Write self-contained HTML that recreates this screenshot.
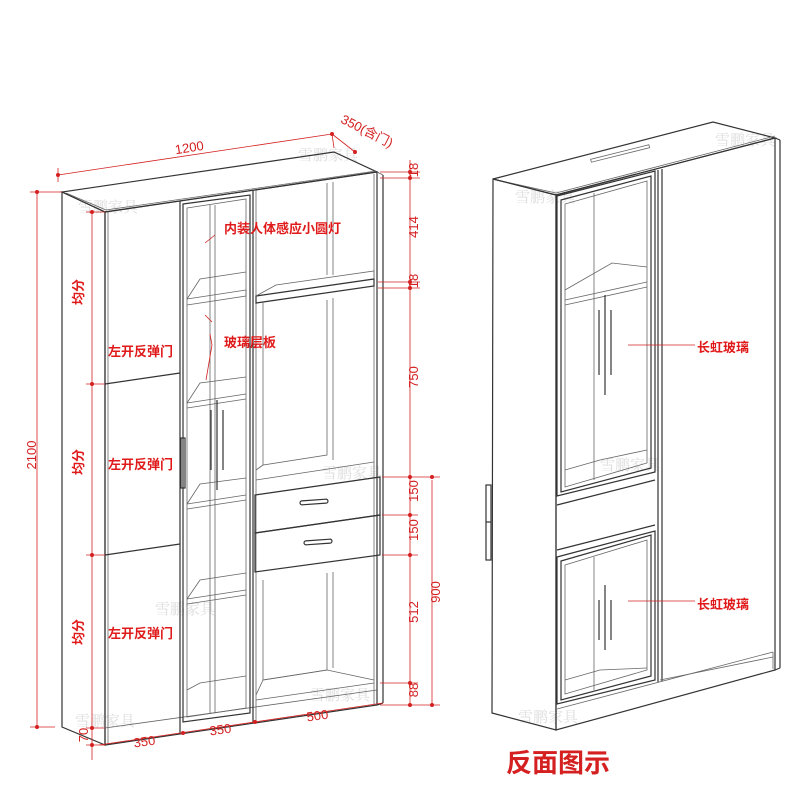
<!DOCTYPE html>
<html><head><meta charset="utf-8"><style>
html,body{margin:0;padding:0;background:#fff;}
svg{display:block;}
.c{fill:none;stroke:#333;stroke-width:1.2}
.t{fill:none;stroke:#666;stroke-width:0.8}
.r{stroke:#d42020;stroke-width:0.8;fill:none}
.d{fill:#d42020}
.lb{font-family:"Liberation Sans","Noto Sans CJK SC",sans-serif;font-weight:bold;font-size:13px;fill:#e01a1a}
.dm{font-family:"Liberation Sans",sans-serif;font-size:13px;fill:#d42020}
.wm{font-family:"Liberation Serif","Noto Serif CJK SC",serif;font-size:15px;fill:#ddd}
</style></head><body>
<svg width="800" height="800" viewBox="0 0 800 800" xmlns="http://www.w3.org/2000/svg">
<rect width="800" height="800" fill="#fff"/>
<g class="wm">
<text x="298" y="160">雪鹏家具</text><text x="78" y="212">雪鹏家具</text>
<text x="322" y="478">雪鹏家具</text><text x="155" y="614">雪鹏家具</text>
<text x="75" y="726">雪鹏家具</text><text x="310" y="700">雪鹏家具</text>
<text x="515" y="202">雪鹏家具</text><text x="715" y="145">雪鹏家具</text>
<text x="600" y="470">雪鹏家具</text><text x="518" y="722">雪鹏家具</text>
</g>
<!-- LEFT CABINET -->
<g>
<polygon class="c" points="62,192 105,212 377,172 334,152"/>
<line class="t" x1="66" y1="193" x2="106" y2="210"/>
<line class="t" x1="106" y1="210" x2="376" y2="171"/>
<polygon class="c" points="62,192 105,212 105,745 62,727"/>
<polygon class="c" points="105,212 377,172 377,705 105,745"/>
<line class="t" x1="377" y1="172" x2="383" y2="175"/>
<line class="c" x1="383" y1="175" x2="383" y2="703"/>
<line class="c" x1="377" y1="705" x2="383" y2="703"/>
<line class="t" x1="108" y1="212" x2="108" y2="744"/>
<line class="c" x1="105" y1="384" x2="180" y2="373"/>
<line class="c" x1="105" y1="555" x2="180" y2="544"/>
<line class="t" x1="105" y1="728" x2="377" y2="690"/>
<line class="c" x1="180" y1="201" x2="180" y2="734"/>
<line class="c" x1="253" y1="190" x2="253" y2="723"/>
<polygon class="c" points="183,204 250,195 250,713 183,722"/>
<polygon class="t" points="187,208 246,199 246,708 187,717"/>
<line class="t" x1="210" y1="205" x2="210" y2="713"/>
<line class="t" x1="215" y1="205" x2="215" y2="713"/>
<g class="t">
<polyline points="187,305 246,296 246,290"/><polyline points="187,299 246,290"/><polyline points="187,299 200,279 246,272"/>
<polyline points="187,408 246,399"/><polyline points="187,403 246,394"/><polyline points="187,403 200,383 246,377"/>
<polyline points="187,509 246,500"/><polyline points="187,504 246,495"/><polyline points="187,504 200,484 246,478"/>
<polyline points="187,604 246,595"/><polyline points="187,599 246,590"/><polyline points="187,599 200,580 246,573"/>
<polyline points="187,690 200,683 246,676"/>
</g>
<g class="c">
<line x1="211" y1="410" x2="211" y2="470"/><line x1="217" y1="400" x2="217" y2="490"/><line x1="223" y1="410" x2="223" y2="470"/>
</g>
<rect x="181" y="438" width="4" height="50" class="c" fill="#fff"/>
<line class="t" x1="256" y1="190" x2="256" y2="722"/>
<line class="t" x1="327" y1="183" x2="327" y2="275"/><line class="t" x1="333" y1="182" x2="333" y2="275"/>
<line class="t" x1="374" y1="174" x2="374" y2="705"/>
<polygon class="c" points="256,296 374,279 374,286 256,303"/>
<polyline class="t" points="256,296 276,285 374,271 374,279"/>
<polyline class="t" points="263,302 263,465 327,455 327,300"/>
<line class="t" x1="333" y1="298" x2="333" y2="460"/>
<polyline class="t" points="256,470 263,465"/>
<line class="t" x1="256" y1="480" x2="374" y2="462"/>
<polygon class="c" points="255,495 380,477 380,515 255,533" fill="#fff"/>
<polygon class="c" points="255,533 380,515 380,555 255,572" fill="#fff"/>
<rect x="300" y="500" width="28" height="4" rx="2" class="c" transform="rotate(-4 314 502)"/>
<rect x="304" y="540" width="28" height="4" rx="2" class="c" transform="rotate(-4 318 542)"/>
<polyline class="t" points="263,580 263,680 327,670 327,573"/>
<line class="t" x1="333" y1="572" x2="333" y2="668"/>
<polyline class="t" points="256,695 263,680 327,670 374,680"/>
<line class="t" x1="256" y1="700" x2="374" y2="683"/>
</g>
<!-- DIMENSIONS LEFT -->
<g class="r">
<line x1="37" y1="192" x2="37" y2="727"/><line x1="30" y1="192" x2="62" y2="192"/><line x1="30" y1="727" x2="55" y2="727"/>
<line x1="92" y1="212" x2="92" y2="760"/>
<line x1="86" y1="384" x2="105" y2="384"/><line x1="86" y1="555" x2="105" y2="555"/><line x1="86" y1="212" x2="105" y2="212"/><line x1="86" y1="728" x2="105" y2="728"/><line x1="86" y1="745" x2="105" y2="745"/>
<line x1="58" y1="175" x2="332" y2="134"/><line x1="58" y1="168" x2="58" y2="182"/>
<line x1="332" y1="134" x2="355" y2="152"/><line x1="332" y1="134" x2="334" y2="148"/>
<line x1="99" y1="745" x2="383" y2="703"/>
<line x1="410" y1="160" x2="410" y2="705"/><line x1="432" y1="480" x2="432" y2="705"/>
<g><line x1="380" y1="172" x2="420" y2="172"/><line x1="380" y1="178" x2="420" y2="178"/>
<line x1="378" y1="282" x2="420" y2="282"/><line x1="378" y1="288" x2="420" y2="288"/>
<line x1="382" y1="477" x2="440" y2="477"/><line x1="382" y1="515" x2="418" y2="515"/><line x1="382" y1="555" x2="418" y2="555"/>
<line x1="380" y1="683" x2="418" y2="683"/><line x1="380" y1="705" x2="440" y2="705"/></g>
<path d="M205 243 L215 235 M205 315 L212 322 M210 334 L212 345 L206 380"/>
</g>
<g class="d">
<circle cx="37" cy="192" r="2"/><circle cx="37" cy="727" r="2"/><circle cx="92" cy="212" r="2"/><circle cx="92" cy="384" r="2"/><circle cx="92" cy="555" r="2"/><circle cx="92" cy="728" r="2"/><circle cx="92" cy="745" r="2"/>
<circle cx="58" cy="175" r="2"/><circle cx="332" cy="134" r="2"/><circle cx="355" cy="152" r="2"/>
<circle cx="410" cy="172" r="2"/><circle cx="410" cy="178" r="2"/><circle cx="410" cy="282" r="2"/><circle cx="410" cy="288" r="2"/><circle cx="410" cy="477" r="2"/><circle cx="410" cy="515" r="2"/><circle cx="410" cy="555" r="2"/><circle cx="410" cy="683" r="2"/><circle cx="410" cy="705" r="2"/><circle cx="432" cy="477" r="2"/><circle cx="432" cy="705" r="2"/>
<circle cx="183" cy="733" r="2"/><circle cx="255" cy="722" r="2"/>
</g>
<g class="dm">
<text x="190" y="152" transform="rotate(-9 190 152)" text-anchor="middle">1200</text>
<text x="365" y="135" transform="rotate(27 365 135)" text-anchor="middle">350(含门)</text>
<text x="36" y="455" transform="rotate(-90 36 455)" text-anchor="middle">2100</text>
<text x="88" y="735" transform="rotate(-90 88 735)" text-anchor="middle">70</text>
<text x="145" y="746" transform="rotate(-8 145 746)" text-anchor="middle">350</text>
<text x="221" y="734" transform="rotate(-8 221 734)" text-anchor="middle">350</text>
<text x="318" y="720" transform="rotate(-8 318 720)" text-anchor="middle">500</text>
<g text-anchor="middle">
<text x="423" y="175" transform="rotate(-90 418 175)">18</text>
<text x="423" y="232" transform="rotate(-90 418 232)">414</text>
<text x="423" y="286" transform="rotate(-90 418 286)">18</text>
<text x="423" y="382" transform="rotate(-90 418 382)">750</text>
<text x="423" y="496" transform="rotate(-90 418 496)">150</text>
<text x="423" y="535" transform="rotate(-90 418 535)">150</text>
<text x="445" y="597" transform="rotate(-90 440 597)">900</text>
<text x="423" y="617" transform="rotate(-90 418 617)">512</text>
<text x="423" y="695" transform="rotate(-90 418 695)">88</text>
</g>
</g>
<g class="lb">
<text x="224" y="233">内装人体感应小圆灯</text>
<text x="224" y="347">玻璃层板</text>
<text x="108" y="356">左开反弹门</text>
<text x="108" y="469">左开反弹门</text>
<text x="108" y="638">左开反弹门</text>
<text x="88" y="297" transform="rotate(-90 83 297)" text-anchor="middle">均分</text>
<text x="88" y="467" transform="rotate(-90 83 467)" text-anchor="middle">均分</text>
<text x="88" y="637" transform="rotate(-90 83 637)" text-anchor="middle">均分</text>
</g>
<!-- RIGHT CABINET -->
<g>
<polygon class="c" points="493,179 556,195 775,138 713,122"/>
<line class="t" x1="497" y1="180" x2="556" y2="193"/>
<line class="t" x1="556" y1="193" x2="775" y2="136"/>
<rect x="590" y="152" width="60" height="3" class="t" transform="rotate(-14 620 153)"/>
<polygon class="c" points="493,179 556,195 556,730 492,713"/>
<polygon class="c" points="556,195 775,138 775,670 556,730"/>
<line class="c" x1="775" y1="138" x2="780" y2="140"/><line class="c" x1="780" y1="140" x2="780" y2="668"/>
<line class="c" x1="775" y1="670" x2="780" y2="668"/>
<line class="c" x1="658" y1="170" x2="658" y2="682"/><line class="c" x1="662" y1="169" x2="662" y2="681"/>
<polygon class="c" points="557,196 655,171 655,472 557,496"/>
<polygon class="c" points="561,200 651,176 651,468 561,492"/>
<polygon class="t" points="565,204 647,181 647,463 565,487"/>
<line class="t" x1="594" y1="193" x2="594" y2="480"/>
<polyline class="t" points="565,290 612,263 647,267"/>
<line class="t" x1="565" y1="300" x2="647" y2="282"/><line class="t" x1="565" y1="305" x2="647" y2="287"/>
<polyline class="t" points="565,470 600,460 647,450"/>
<g class="c"><line x1="599" y1="310" x2="599" y2="375"/><line x1="605" y1="295" x2="605" y2="395"/><line x1="611" y1="310" x2="611" y2="375"/></g>
<line class="c" x1="557" y1="505" x2="655" y2="480"/>
<line class="c" x1="557" y1="550" x2="655" y2="525"/>
<polygon class="c" points="557,557 655,531 655,680 557,704"/>
<polygon class="c" points="561,561 651,535 651,676 561,700"/>
<polygon class="t" points="565,565 647,540 647,670 565,694"/>
<line class="t" x1="594" y1="557" x2="594" y2="690"/>
<polyline class="t" points="565,680 600,670 647,668"/>
<g class="c"><line x1="599" y1="600" x2="599" y2="640"/><line x1="605" y1="585" x2="605" y2="650"/><line x1="611" y1="600" x2="611" y2="640"/></g>
<line class="t" x1="557" y1="709" x2="773" y2="652"/>
<line class="t" x1="660" y1="680" x2="773" y2="657"/>
<line class="t" x1="773" y1="652" x2="773" y2="669"/>
<rect x="486" y="485" width="5" height="75" class="c" fill="#fff"/>
<line class="c" x1="486" y1="522" x2="491" y2="522"/>
</g>
<g class="r"><line x1="628" y1="345" x2="695" y2="345"/><line x1="628" y1="601" x2="695" y2="601"/></g>
<g class="lb"><text x="697" y="352">长虹玻璃</text><text x="697" y="609">长虹玻璃</text></g>
<text x="506" y="772" font-family="'Liberation Sans','Noto Sans CJK SC',sans-serif" font-weight="bold" font-size="26" fill="#d42020">反面图示</text>
</svg>
</body></html>
